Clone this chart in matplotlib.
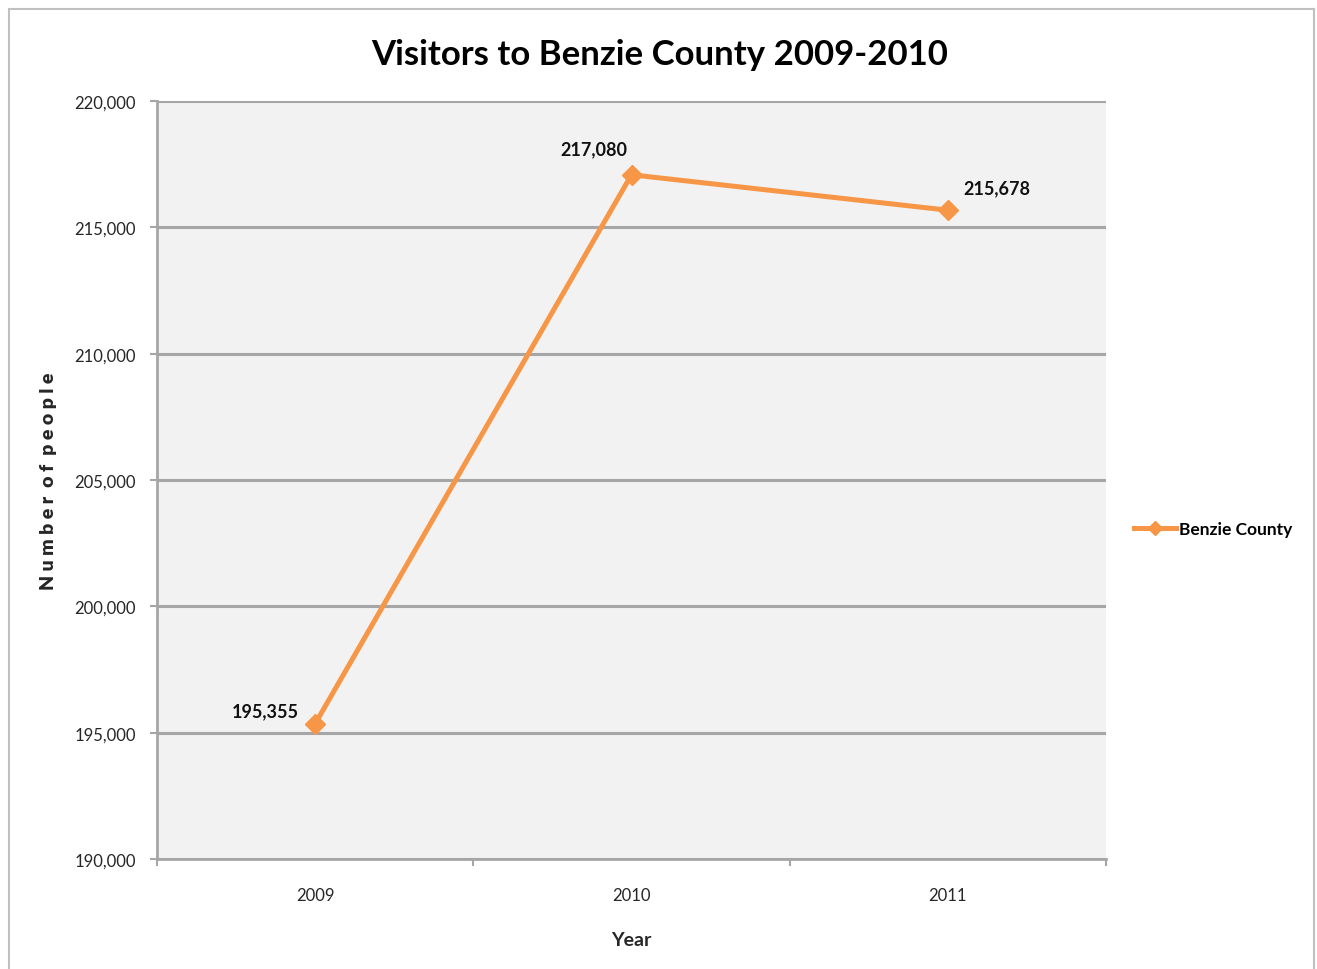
import matplotlib
matplotlib.use('Agg')
import matplotlib.pyplot as plt
from matplotlib.lines import Line2D
from matplotlib.ticker import FuncFormatter, FixedLocator

# ====================================================
years = ['2009', '2010', '2011']
visitors = [195355, 217080, 215678]
series_name = 'Benzie County'
y_ticks = [190000, 195000, 200000, 205000, 210000, 215000, 220000]

ORANGE = '#f79646'
GRID = '#a6a6a6'
TEXT = '#262626'

plt.rcParams['font.family'] = ['Lato', 'DejaVu Sans']

# ====================================================
def main():
	fig = plt.figure(figsize=(13.17, 9.70), dpi=100)
	ax = fig.add_axes([157/1317, 1 - 860/970, (1106 - 157)/1317, (860 - 102)/970])
	ax.set_facecolor('#f2f2f2')

	x = list(range(len(years)))
	ax.plot(x, visitors, color=ORANGE, lw=3.6, marker='D', ms=10,
			mec=ORANGE, mfc=ORANGE, label=series_name, zorder=3)

	offsets = [(-12, 9, 'right'), (-3, 19, 'right'), (11, 16, 'left')]
	for i, v in enumerate(visitors):
		dx, dy, ha = offsets[i]
		ax.annotate(f'{v:,}', (x[i], v), xytext=(dx, dy), textcoords='offset points',
					ha=ha, va='center', fontsize=13, fontweight='bold', color='#111111')

	ax.set_xlim(-0.5, len(years) - 0.5)
	ax.set_ylim(y_ticks[0], y_ticks[-1])
	ax.set_yticks(y_ticks)
	ax.yaxis.set_major_formatter(FuncFormatter(lambda v, p: f'{int(v):,}'))
	ax.set_xticks(x)
	ax.set_xticklabels(years)
	ax.xaxis.set_minor_locator(FixedLocator([i - 0.5 for i in range(len(years) + 1)]))
	ax.tick_params(axis='x', which='major', length=0, pad=20, labelsize=12, labelcolor=TEXT)
	ax.tick_params(axis='x', which='minor', length=5, width=1.5, color=GRID, direction='out')
	ax.tick_params(axis='y', length=5, width=1.5, color=GRID, pad=10, labelsize=12, labelcolor=TEXT)

	ax.grid(axis='y', color=GRID, lw=2.2, zorder=1)
	ax.set_axisbelow(True)
	for s in ['top', 'right']:
		ax.spines[s].set_visible(False)
	for s in ['left', 'bottom']:
		ax.spines[s].set_color(GRID)
		ax.spines[s].set_linewidth(2)

	ax.set_xlabel('Year', fontsize=14, fontweight='bold', color=TEXT, labelpad=20)
	ax.set_ylabel('N u m b e r  o f  p e o p l e', fontsize=14,
				  fontweight='heavy', color=TEXT, labelpad=13)
	fig.text(660/1317, 1 - 55/970, 'Visitors to Benzie County 2009-2010', ha='center', va='center',
			 fontsize=25, fontweight='bold', color='black')

	ax.legend(loc='center left', bbox_to_anchor=(1134/1317, 1 - 530/970),
			  bbox_transform=fig.transFigure, frameon=False, handlelength=2.4,
			  handletextpad=0.2, borderaxespad=0, borderpad=0,
			  prop={'size': 12.5, 'weight': 'bold'}, markerscale=0.7)

	# outer chart frame
	frame = dict(color='#c0c0c0', lw=1.5, transform=fig.transFigure)
	fig.add_artist(Line2D([9/1317, 9/1317], [0, 1 - 10/970], **frame))
	fig.add_artist(Line2D([9/1317, 1314/1317], [1 - 10/970, 1 - 10/970], **frame))
	fig.add_artist(Line2D([1314/1317, 1314/1317], [0, 1 - 10/970], **frame))

	fig.savefig('out.png', dpi=100)

# ====================================================
if __name__ == "__main__":
	main()
